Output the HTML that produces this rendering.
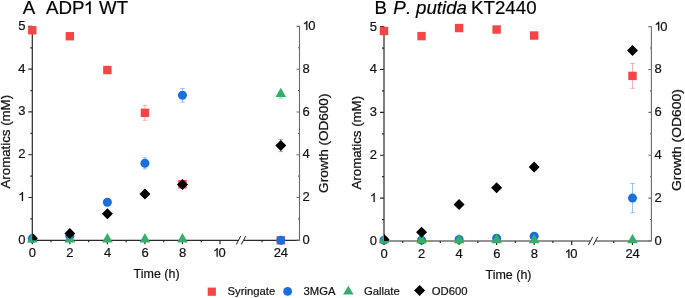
<!DOCTYPE html><html><head><meta charset="utf-8"><style>html,body{margin:0;padding:0;background:#fff;width:685px;height:298px;overflow:hidden}svg{display:block;font-family:"Liberation Sans", sans-serif;will-change:transform}.tl{font-size:13px;fill:#111;stroke:#111;stroke-width:0.2px}.at{font-size:12.6px;fill:#111;stroke:#111;stroke-width:0.25px}.at2{font-size:12.5px;fill:#111;stroke:#111;stroke-width:0.2px}.lg{font-size:11.3px;fill:#111;stroke:#111;stroke-width:0.2px}.tt{font-size:18.7px;fill:#000;stroke:#000;stroke-width:0.2px}</style></head><body>
<svg width="685" height="298" viewBox="0 0 685 298">
<defs><clipPath id="clipA"><rect x="32.3" y="16.400000000000006" width="267.2" height="223.9"/></clipPath></defs>
<path d="M32.3 26.400000000000006 V240.3 M32.3 240.3 H238.4 M243.6 240.3 H299.5 M28.299999999999997 240.30 H32.3 M30.299999999999997 218.91 H32.3 M28.299999999999997 197.52 H32.3 M30.299999999999997 176.13 H32.3 M28.299999999999997 154.74 H32.3 M30.299999999999997 133.35 H32.3 M28.299999999999997 111.96 H32.3 M30.299999999999997 90.57 H32.3 M28.299999999999997 69.18 H32.3 M30.299999999999997 47.79 H32.3 M28.299999999999997 26.40 H32.3 M32.30 240.3 V244.3 M51.07 240.3 V242.3 M69.84 240.3 V244.3 M88.61 240.3 V242.3 M107.38 240.3 V244.3 M126.15 240.3 V242.3 M144.92 240.3 V244.3 M163.69 240.3 V242.3 M182.46 240.3 V244.3 M201.23 240.3 V242.3 M220.00 240.3 V244.3 M280.80 240.3 V244.3 M262.03 240.3 V242.3" stroke="#2b2b2b" stroke-width="1.2" fill="none"/>
<path d="M299.5 26.400000000000006 V240.3 M296.5 240.30 H299.5 M298.0 218.91 H299.5 M296.5 197.52 H299.5 M298.0 176.13 H299.5 M296.5 154.74 H299.5 M298.0 133.35 H299.5 M296.5 111.96 H299.5 M298.0 90.57 H299.5 M296.5 69.18 H299.5 M298.0 47.79 H299.5 M296.5 26.40 H299.5" stroke="#6a6a6a" stroke-width="1.1" fill="none"/>
<path d="M236.3 244.5 L240.7 236.10000000000002 M241.3 244.5 L245.7 236.10000000000002" stroke="#222" stroke-width="1" fill="none"/>
<text x="18.17" y="243.80" class="tl">0</text>
<path transform="translate(18.17,201.02) scale(0.006348,-0.006075)" d="M763 0H583V1147Q518 1085 412.5 1023Q307 961 223 930V1104Q374 1175 487 1276Q600 1377 647 1472H763Z" fill="#111" stroke="#111" stroke-width="0.2" vector-effect="non-scaling-stroke"/>
<text x="18.17" y="158.24" class="tl">2</text>
<text x="18.17" y="115.46" class="tl">3</text>
<text x="18.17" y="72.68" class="tl">4</text>
<text x="18.17" y="29.90" class="tl">5</text>
<text x="302.50" y="243.90" class="tl">0</text>
<text x="302.50" y="201.12" class="tl">2</text>
<text x="302.50" y="158.34" class="tl">4</text>
<text x="302.50" y="115.56" class="tl">6</text>
<text x="302.50" y="72.78" class="tl">8</text>
<path transform="translate(302.50,30.00) scale(0.006348,-0.006075)" d="M763 0H583V1147Q518 1085 412.5 1023Q307 961 223 930V1104Q374 1175 487 1276Q600 1377 647 1472H763Z" fill="#111" stroke="#111" stroke-width="0.2" vector-effect="non-scaling-stroke"/><text x="308.30" y="30.00" class="tl">0</text>
<text x="28.82" y="256.70" class="tl">0</text>
<text x="66.36" y="256.70" class="tl">2</text>
<text x="103.90" y="256.70" class="tl">4</text>
<text x="141.44" y="256.70" class="tl">6</text>
<text x="178.98" y="256.70" class="tl">8</text>
<path transform="translate(213.05,256.70) scale(0.006104,-0.005841)" d="M763 0H583V1147Q518 1085 412.5 1023Q307 961 223 930V1104Q374 1175 487 1276Q600 1377 647 1472H763Z" fill="#111" stroke="#111" stroke-width="0.2" vector-effect="non-scaling-stroke"/><text x="218.62" y="256.70" class="tl">0</text>
<text x="273.85" y="256.70" class="tl">2</text><text x="280.80" y="256.70" class="tl">4</text>
<rect x="28.10" y="26.05" width="8.4" height="8.4" fill="#F54545"/>
<rect x="65.64" y="32.04" width="8.4" height="8.4" fill="#F54545"/>
<rect x="103.18" y="65.84" width="8.4" height="8.4" fill="#F54545"/>
<g stroke="#F54545" stroke-width="1" opacity="0.42" fill="none"><path d="M144.92 105.33 V120.30 M142.72 105.33 H147.12 M142.72 120.30 H147.12"/></g>
<rect x="140.72" y="108.62" width="8.4" height="8.4" fill="#F54545"/>
<rect x="178.26" y="180.06" width="8.4" height="8.4" fill="#F54545"/>
<rect x="276.60" y="236.10" width="8.4" height="8.4" fill="#F54545"/>
<circle cx="32.30" cy="238.59" r="4.5" fill="#1A6FDF"/>
<circle cx="69.84" cy="236.02" r="4.5" fill="#1A6FDF"/>
<circle cx="107.38" cy="202.23" r="4.5" fill="#1A6FDF"/>
<g stroke="#1A6FDF" stroke-width="1" opacity="0.42" fill="none"><path d="M144.92 157.73 V168.86 M142.72 157.73 H147.12 M142.72 168.86 H147.12"/></g>
<circle cx="144.92" cy="163.30" r="4.5" fill="#1A6FDF"/>
<g stroke="#1A6FDF" stroke-width="1" opacity="0.42" fill="none"><path d="M182.46 88.43 V102.12 M180.26 88.43 H184.66 M180.26 102.12 H184.66"/></g>
<circle cx="182.46" cy="95.28" r="4.5" fill="#1A6FDF"/>
<circle cx="280.80" cy="240.30" r="4.5" fill="#1A6FDF"/>
<path d="M32.30 233.10 L37.60 242.50 L27.00 242.50 Z" fill="#37AD6B"/>
<path d="M69.84 233.10 L75.14 242.50 L64.54 242.50 Z" fill="#37AD6B"/>
<path d="M107.38 233.10 L112.68 242.50 L102.08 242.50 Z" fill="#37AD6B"/>
<path d="M144.92 233.10 L150.22 242.50 L139.62 242.50 Z" fill="#37AD6B"/>
<path d="M182.46 233.10 L187.76 242.50 L177.16 242.50 Z" fill="#37AD6B"/>
<g stroke="#37AD6B" stroke-width="1" opacity="0.42" fill="none"><path d="M280.80 91.43 V98.27 M278.60 91.43 H283.00 M278.60 98.27 H283.00"/></g>
<path d="M280.80 87.65 L286.10 97.05 L275.50 97.05 Z" fill="#37AD6B"/>
<g clip-path="url(#clipA)">
<path d="M32.30 233.09 L37.80 238.59 L32.30 244.09 L26.80 238.59 Z" fill="#000000"/>
<path d="M69.84 227.96 L75.34 233.46 L69.84 238.96 L64.34 233.46 Z" fill="#000000"/>
<path d="M107.38 208.28 L112.88 213.78 L107.38 219.28 L101.88 213.78 Z" fill="#000000"/>
<path d="M144.92 188.60 L150.42 194.10 L144.92 199.60 L139.42 194.10 Z" fill="#000000"/>
<path d="M182.46 178.97 L187.96 184.47 L182.46 189.97 L176.96 184.47 Z" fill="#000000"/>
<g stroke="#000" stroke-width="1" opacity="0.3" fill="none"><path d="M280.80 139.45 V151.64 M278.60 139.45 H283.00 M278.60 151.64 H283.00"/></g>
<path d="M280.80 140.04 L286.30 145.54 L280.80 151.04 L275.30 145.54 Z" fill="#000000"/>
</g>
<defs><clipPath id="clipB"><rect x="384.0" y="16.599999999999994" width="267.4" height="224.4"/></clipPath></defs>
<path d="M384.0 26.599999999999994 V241.0 M384.0 241.0 H590.4 M595.6 241.0 H651.4 M380.0 241.00 H384.0 M382.0 219.56 H384.0 M380.0 198.12 H384.0 M382.0 176.68 H384.0 M380.0 155.24 H384.0 M382.0 133.80 H384.0 M380.0 112.36 H384.0 M382.0 90.92 H384.0 M380.0 69.48 H384.0 M382.0 48.04 H384.0 M380.0 26.60 H384.0 M384.00 241.0 V245.0 M402.77 241.0 V243.0 M421.54 241.0 V245.0 M440.31 241.0 V243.0 M459.08 241.0 V245.0 M477.85 241.0 V243.0 M496.62 241.0 V245.0 M515.39 241.0 V243.0 M534.16 241.0 V245.0 M552.93 241.0 V243.0 M571.70 241.0 V245.0 M632.50 241.0 V245.0 M613.73 241.0 V243.0" stroke="#2b2b2b" stroke-width="1.2" fill="none"/>
<path d="M651.4 26.599999999999994 V241.0 M648.4 241.00 H651.4 M649.9 219.56 H651.4 M648.4 198.12 H651.4 M649.9 176.68 H651.4 M648.4 155.24 H651.4 M649.9 133.80 H651.4 M648.4 112.36 H651.4 M649.9 90.92 H651.4 M648.4 69.48 H651.4 M649.9 48.04 H651.4 M648.4 26.60 H651.4" stroke="#6a6a6a" stroke-width="1.1" fill="none"/>
<path d="M588.3 245.2 L592.7 236.8 M593.3 245.2 L597.7 236.8" stroke="#222" stroke-width="1" fill="none"/>
<text x="369.87" y="244.90" class="tl">0</text>
<path transform="translate(369.87,202.02) scale(0.006348,-0.006075)" d="M763 0H583V1147Q518 1085 412.5 1023Q307 961 223 930V1104Q374 1175 487 1276Q600 1377 647 1472H763Z" fill="#111" stroke="#111" stroke-width="0.2" vector-effect="non-scaling-stroke"/>
<text x="369.87" y="159.14" class="tl">2</text>
<text x="369.87" y="116.26" class="tl">3</text>
<text x="369.87" y="73.38" class="tl">4</text>
<text x="369.87" y="30.50" class="tl">5</text>
<text x="654.40" y="245.00" class="tl">0</text>
<text x="654.40" y="202.12" class="tl">2</text>
<text x="654.40" y="159.24" class="tl">4</text>
<text x="654.40" y="116.36" class="tl">6</text>
<text x="654.40" y="73.48" class="tl">8</text>
<path transform="translate(654.40,30.60) scale(0.006348,-0.006075)" d="M763 0H583V1147Q518 1085 412.5 1023Q307 961 223 930V1104Q374 1175 487 1276Q600 1377 647 1472H763Z" fill="#111" stroke="#111" stroke-width="0.2" vector-effect="non-scaling-stroke"/><text x="660.20" y="30.60" class="tl">0</text>
<text x="380.52" y="257.90" class="tl">0</text>
<text x="418.06" y="257.90" class="tl">2</text>
<text x="455.60" y="257.90" class="tl">4</text>
<text x="493.14" y="257.90" class="tl">6</text>
<text x="530.68" y="257.90" class="tl">8</text>
<path transform="translate(564.75,257.90) scale(0.006104,-0.005841)" d="M763 0H583V1147Q518 1085 412.5 1023Q307 961 223 930V1104Q374 1175 487 1276Q600 1377 647 1472H763Z" fill="#111" stroke="#111" stroke-width="0.2" vector-effect="non-scaling-stroke"/><text x="570.33" y="257.90" class="tl">0</text>
<text x="625.55" y="257.90" class="tl">2</text><text x="632.50" y="257.90" class="tl">4</text>
<rect x="379.80" y="26.82" width="8.4" height="8.4" fill="#F54545"/>
<rect x="417.34" y="31.92" width="8.4" height="8.4" fill="#F54545"/>
<rect x="454.88" y="23.86" width="8.4" height="8.4" fill="#F54545"/>
<rect x="492.42" y="25.32" width="8.4" height="8.4" fill="#F54545"/>
<rect x="529.96" y="31.32" width="8.4" height="8.4" fill="#F54545"/>
<g stroke="#F54545" stroke-width="1" opacity="0.42" fill="none"><path d="M632.50 63.48 V88.35 M630.30 63.48 H634.70 M630.30 88.35 H634.70"/></g>
<rect x="628.30" y="71.71" width="8.4" height="8.4" fill="#F54545"/>
<circle cx="384.00" cy="240.14" r="4.5" fill="#1A6FDF"/>
<circle cx="421.54" cy="240.14" r="4.5" fill="#1A6FDF"/>
<circle cx="459.08" cy="239.50" r="4.5" fill="#1A6FDF"/>
<circle cx="496.62" cy="238.21" r="4.5" fill="#1A6FDF"/>
<circle cx="534.16" cy="236.28" r="4.5" fill="#1A6FDF"/>
<g stroke="#1A6FDF" stroke-width="1" opacity="0.42" fill="none"><path d="M632.50 183.54 V212.70 M630.30 183.54 H634.70 M630.30 212.70 H634.70"/></g>
<circle cx="632.50" cy="198.12" r="4.5" fill="#1A6FDF"/>
<path d="M384.00 233.80 L389.30 243.20 L378.70 243.20 Z" fill="#37AD6B"/>
<path d="M421.54 233.80 L426.84 243.20 L416.24 243.20 Z" fill="#37AD6B"/>
<path d="M459.08 233.80 L464.38 243.20 L453.78 243.20 Z" fill="#37AD6B"/>
<path d="M496.62 233.80 L501.92 243.20 L491.32 243.20 Z" fill="#37AD6B"/>
<path d="M534.16 233.80 L539.46 243.20 L528.86 243.20 Z" fill="#37AD6B"/>
<path d="M632.50 233.80 L637.80 243.20 L627.20 243.20 Z" fill="#37AD6B"/>
<g clip-path="url(#clipB)">
<path d="M384.00 234.11 L389.50 239.61 L384.00 245.11 L378.50 239.61 Z" fill="#000000"/>
<path d="M421.54 226.71 L427.04 232.21 L421.54 237.71 L416.04 232.21 Z" fill="#000000"/>
<path d="M459.08 199.05 L464.58 204.55 L459.08 210.05 L453.58 204.55 Z" fill="#000000"/>
<path d="M496.62 182.33 L502.12 187.83 L496.62 193.33 L491.12 187.83 Z" fill="#000000"/>
<path d="M534.16 161.53 L539.66 167.03 L534.16 172.53 L528.66 167.03 Z" fill="#000000"/>
<path d="M632.50 45.01 L638.00 50.51 L632.50 56.01 L627.00 50.51 Z" fill="#000000"/>
</g>
<text class="at" style="font-size:13.2px" transform="translate(10.2,188.5) rotate(-90)" textLength="93.6" lengthAdjust="spacingAndGlyphs">Aromatics (mM)</text>
<text class="at" style="font-size:13.2px" transform="translate(328.3,192.9) rotate(-90)" textLength="99.3" lengthAdjust="spacingAndGlyphs">Growth (OD600)</text>
<text class="at" style="font-size:13.2px" transform="translate(360.5,189.5) rotate(-90)" textLength="93.6" lengthAdjust="spacingAndGlyphs">Aromatics (mM)</text>
<text class="at" style="font-size:13.2px" transform="translate(680.8,191.0) rotate(-90)" textLength="101.8" lengthAdjust="spacingAndGlyphs">Growth (OD600)</text>
<text class="at2" x="133.6" y="278.0" textLength="46" lengthAdjust="spacingAndGlyphs">Time (h)</text>
<text class="at2" x="485.5" y="278.8" textLength="46" lengthAdjust="spacingAndGlyphs">Time (h)</text>
<text class="tt" x="22.8" y="14">A</text><text class="tt" x="46.0" y="14">ADP</text>
<path transform="translate(83.70,14.00) scale(0.009131,-0.008738)" d="M763 0H583V1147Q518 1085 412.5 1023Q307 961 223 930V1104Q374 1175 487 1276Q600 1377 647 1472H763Z" fill="#000" stroke="#000" stroke-width="0.2" vector-effect="non-scaling-stroke"/>
<text class="tt" x="99.0" y="14">WT</text>
<text class="tt" x="374.5" y="14">B</text><text class="tt" x="393.2" y="13.7"><tspan font-style="italic">P</tspan><tspan font-style="italic" dx="2.7">.</tspan><tspan font-style="italic" dx="-0.3"> putida</tspan><tspan dx="-1.1"> KT2440</tspan></text>
<rect x="207.7" y="287.6" width="8.2" height="8.2" fill="#F54545"/>
<text class="lg" x="227.5" y="295.4">Syringate</text>
<circle cx="287.6" cy="291.4" r="4.4" fill="#1A6FDF"/>
<text class="lg" x="303.5" y="295.4">3MGA</text>
<path d="M348.3 285.7 L353.6 294.6 L343 294.6 Z" fill="#37AD6B"/>
<text class="lg" x="364" y="295.4">Gallate</text>
<path d="M419.6 284.9 L425.1 290.4 L419.6 295.9 L414.1 290.4 Z" fill="#000"/>
<text class="lg" x="431.8" y="295.4">OD600</text>
</svg></body></html>
